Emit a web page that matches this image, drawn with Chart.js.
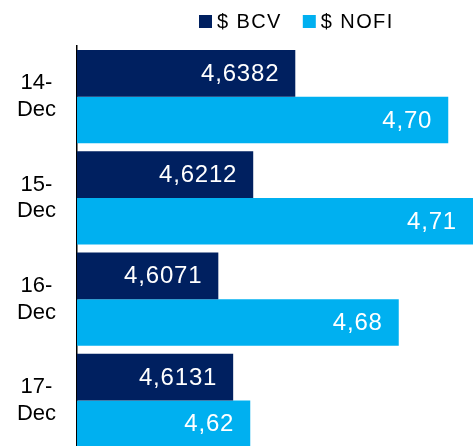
<!DOCTYPE html>
<html>
<head>
<meta charset="utf-8">
<script src="https://cdn.jsdelivr.net/npm/chart.js@4.4.1/dist/chart.umd.min.js"></script>
<style>
  html, body { margin: 0; padding: 0; overflow: hidden; background: #fff; }
  #wrap { width: 473px; height: 451px; position: relative; }
</style>
</head>
<body>
<div id="wrap"><canvas id="chart"></canvas></div>
<script>
const days = [['14-', 'Dec'], ['15-', 'Dec'], ['16-', 'Dec'], ['17-', 'Dec']]
const bcv = [4.6382, 4.6212, 4.6071, 4.6131]
const nofi = [4.70, 4.71, 4.68, 4.62]
const bcvText = ['4,6382', '4,6212', '4,6071', '4,6131']
const nofiText = ['4,70', '4,71', '4,68', '4,62']
const seriesNames = ['$ BCV', '$ NOFI']
const seriesColors = ['#002060', '#00B0F0']

const labelTexts = [bcvText, nofiText]

// values written inside the bar ends
const barLabels = {
    id: 'barLabels',
    afterDatasetsDraw(chart) {
        const ctx = chart.ctx
        ctx.save()
        ctx.font = '24px "Liberation Sans", Arial, sans-serif'
        ctx.letterSpacing = '0.8px'
        ctx.fillStyle = '#fff'
        ctx.textAlign = 'right'
        ctx.textBaseline = 'middle'
        chart.data.datasets.forEach((ds, i) => {
            chart.getDatasetMeta(i).data.forEach((bar, j) => {
                ctx.fillText(labelTexts[i][j], bar.x - 16, bar.y + 1)
            })
        })
        ctx.restore()
    }
}

// small legend, box close to text
const topLegend = {
    id: 'topLegend',
    afterDraw(chart) {
        const ctx = chart.ctx
        ctx.save()
        ctx.font = '20px "Liberation Sans", Arial, sans-serif'
        ctx.letterSpacing = '1.4px'
        ctx.textBaseline = 'middle'
        ctx.textAlign = 'left'
        let x = 199
        chart.data.datasets.forEach(ds => {
            ctx.fillStyle = ds.backgroundColor
            ctx.fillRect(x, 15, 13, 13)
            ctx.fillStyle = '#000'
            ctx.fillText(ds.label, x + 18, 22)
            x += 18 + ctx.measureText(ds.label).width + 21
        })
        ctx.restore()
    }
}

new Chart(document.getElementById('chart'), {
    type: 'bar',
    data: {
        labels: days,
        datasets: [
            { label: seriesNames[0], data: bcv, backgroundColor: seriesColors[0] },
            { label: seriesNames[1], data: nofi, backgroundColor: seriesColors[1] }
        ]
    },
    options: {
        indexAxis: 'y',
        responsive: true,
        maintainAspectRatio: false,
        animation: false,
        layout: { padding: { top: 46, right: 0, bottom: 0, left: 0 } },
        datasets: { bar: { barPercentage: 1, categoryPercentage: 0.92 } },
        scales: {
            x: { display: false, min: 4.55, max: 4.71 },
            y: {
                grid: { display: false, drawTicks: false },
                border: { display: true, color: '#000', width: 1.5 },
                ticks: {
                    color: '#000',
                    padding: 21,
                    crossAlign: 'center',
                    font: { family: '"Liberation Sans", Arial, sans-serif', size: 22, lineHeight: 1.22 }
                },
                afterFit(scale) {
                    scale.width = 77
                    scale.paddingTop = 0
                    scale.paddingBottom = 0
                }
            }
        },
        plugins: {
            legend: { display: false },
            tooltip: { enabled: false }
        }
    },
    plugins: [barLabels, topLegend]
})
</script>
</body>
</html>
